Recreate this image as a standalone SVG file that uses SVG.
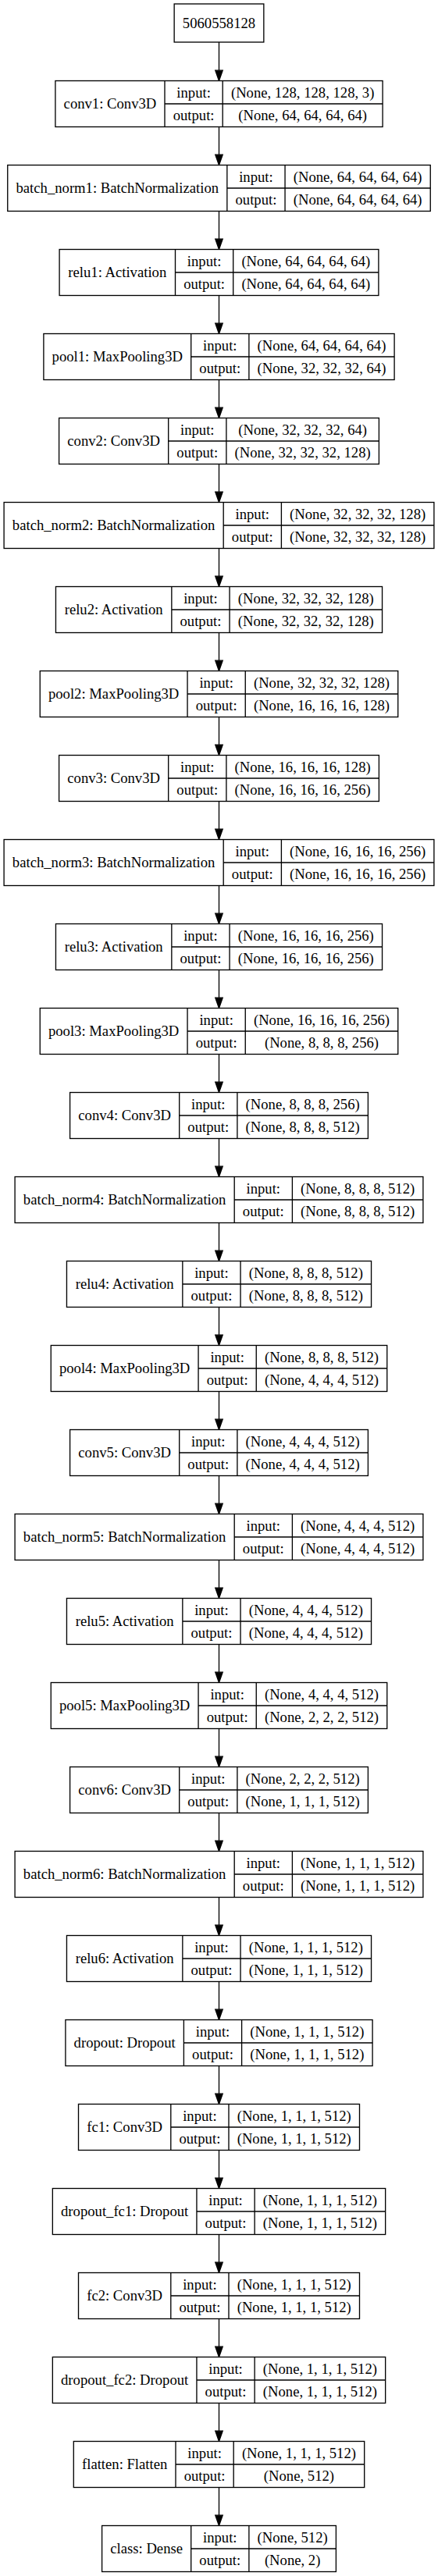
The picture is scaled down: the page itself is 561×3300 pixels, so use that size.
<svg xmlns="http://www.w3.org/2000/svg" xmlns:xlink="http://www.w3.org/1999/xlink" width="561" height="3300" viewBox="0 0 561 3300">
<style>
.b{fill:#fff;stroke:#000;stroke-width:1.33}
.d{fill:none;stroke:#000;stroke-width:1.33}
text{font-family:"Liberation Serif","Times New Roman",serif;font-size:18.67px;text-anchor:middle;fill:#000}
.e{stroke:#000;stroke-width:1.33;fill:none}
.h{fill:#000;stroke:#000;stroke-width:1.33}
</style>
<defs>
<g id="arr"><path class="e" d="M280.5 -49V-13.3"/><polygon class="h" points="280.5,0 275.8,-13.3 285.2,-13.3"/></g>
</defs>
<rect x="0" y="0" width="561" height="3300" fill="#fff"/>
<g id="connectors">
<path class="e" d="M280.5 54V90.2"/><polygon class="h" points="280.5,103.5 275.8,90.2 285.2,90.2"/>
<use xlink:href="#arr" y="211.5"/>
<use xlink:href="#arr" y="319.5"/>
<use xlink:href="#arr" y="427.5"/>
<use xlink:href="#arr" y="535.5"/>
<use xlink:href="#arr" y="643.5"/>
<use xlink:href="#arr" y="751.5"/>
<use xlink:href="#arr" y="859.5"/>
<use xlink:href="#arr" y="967.5"/>
<use xlink:href="#arr" y="1075.5"/>
<use xlink:href="#arr" y="1183.5"/>
<use xlink:href="#arr" y="1291.5"/>
<use xlink:href="#arr" y="1399.5"/>
<use xlink:href="#arr" y="1507.5"/>
<use xlink:href="#arr" y="1615.5"/>
<use xlink:href="#arr" y="1723.5"/>
<use xlink:href="#arr" y="1831.5"/>
<use xlink:href="#arr" y="1939.5"/>
<use xlink:href="#arr" y="2047.5"/>
<use xlink:href="#arr" y="2155.5"/>
<use xlink:href="#arr" y="2263.5"/>
<use xlink:href="#arr" y="2371.5"/>
<use xlink:href="#arr" y="2479.5"/>
<use xlink:href="#arr" y="2587.5"/>
<use xlink:href="#arr" y="2695.5"/>
<use xlink:href="#arr" y="2803.5"/>
<use xlink:href="#arr" y="2911.5"/>
<use xlink:href="#arr" y="3019.5"/>
<use xlink:href="#arr" y="3127.5"/>
<use xlink:href="#arr" y="3235.5"/>
</g>
<g id="input"><rect class="b" x="223.15" y="5" width="114.7" height="49"/><text x="280.5" y="35.5">5060558128</text></g>
<g id="conv1" transform="translate(0,103.5)"><rect class="b" x="70.9" y="0" width="419.2" height="59"/><path class="d" d="M211 0V59M285.2 0V59M211 29.5H490.1"/><text x="140.95" y="35.5">conv1: Conv3D</text><text x="248.1" y="21">input:</text><text x="248.1" y="50.5">output:</text><text x="387.65" y="21">(None, 128, 128, 128, 3)</text><text x="387.65" y="50.5">(None, 64, 64, 64, 64)</text></g>
<g id="batch_norm1" transform="translate(0,211.5)"><rect class="b" x="9.75" y="0" width="541.5" height="59"/><path class="d" d="M290.85 0V59M365.05 0V59M290.85 29.5H551.25"/><text x="150.3" y="35.5">batch_norm1: BatchNormalization</text><text x="327.95" y="21">input:</text><text x="327.95" y="50.5">output:</text><text x="458.15" y="21">(None, 64, 64, 64, 64)</text><text x="458.15" y="50.5">(None, 64, 64, 64, 64)</text></g>
<g id="relu1" transform="translate(0,319.5)"><rect class="b" x="76.1" y="0" width="408.8" height="59"/><path class="d" d="M224.5 0V59M298.7 0V59M224.5 29.5H484.9"/><text x="150.3" y="35.5">relu1: Activation</text><text x="261.6" y="21">input:</text><text x="261.6" y="50.5">output:</text><text x="391.8" y="21">(None, 64, 64, 64, 64)</text><text x="391.8" y="50.5">(None, 64, 64, 64, 64)</text></g>
<g id="pool1" transform="translate(0,427.5)"><rect class="b" x="55.9" y="0" width="449.2" height="59"/><path class="d" d="M244.7 0V59M318.9 0V59M244.7 29.5H505.1"/><text x="150.3" y="35.5">pool1: MaxPooling3D</text><text x="281.8" y="21">input:</text><text x="281.8" y="50.5">output:</text><text x="412" y="21">(None, 64, 64, 64, 64)</text><text x="412" y="50.5">(None, 32, 32, 32, 64)</text></g>
<g id="conv2" transform="translate(0,535.5)"><rect class="b" x="75.6" y="0" width="409.8" height="59"/><path class="d" d="M215.7 0V59M289.9 0V59M215.7 29.5H485.4"/><text x="145.65" y="35.5">conv2: Conv3D</text><text x="252.8" y="21">input:</text><text x="252.8" y="50.5">output:</text><text x="387.65" y="21">(None, 32, 32, 32, 64)</text><text x="387.65" y="50.5">(None, 32, 32, 32, 128)</text></g>
<g id="batch_norm2" transform="translate(0,643.5)"><rect class="b" x="5.1" y="0" width="550.8" height="59"/><path class="d" d="M286.2 0V59M360.4 0V59M286.2 29.5H555.9"/><text x="145.65" y="35.5">batch_norm2: BatchNormalization</text><text x="323.3" y="21">input:</text><text x="323.3" y="50.5">output:</text><text x="458.15" y="21">(None, 32, 32, 32, 128)</text><text x="458.15" y="50.5">(None, 32, 32, 32, 128)</text></g>
<g id="relu2" transform="translate(0,751.5)"><rect class="b" x="71.45" y="0" width="418.1" height="59"/><path class="d" d="M219.85 0V59M294.05 0V59M219.85 29.5H489.55"/><text x="145.65" y="35.5">relu2: Activation</text><text x="256.95" y="21">input:</text><text x="256.95" y="50.5">output:</text><text x="391.8" y="21">(None, 32, 32, 32, 128)</text><text x="391.8" y="50.5">(None, 32, 32, 32, 128)</text></g>
<g id="pool2" transform="translate(0,859.5)"><rect class="b" x="51.25" y="0" width="458.5" height="59"/><path class="d" d="M240.05 0V59M314.25 0V59M240.05 29.5H509.75"/><text x="145.65" y="35.5">pool2: MaxPooling3D</text><text x="277.15" y="21">input:</text><text x="277.15" y="50.5">output:</text><text x="412" y="21">(None, 32, 32, 32, 128)</text><text x="412" y="50.5">(None, 16, 16, 16, 128)</text></g>
<g id="conv3" transform="translate(0,967.5)"><rect class="b" x="75.6" y="0" width="409.8" height="59"/><path class="d" d="M215.7 0V59M289.9 0V59M215.7 29.5H485.4"/><text x="145.65" y="35.5">conv3: Conv3D</text><text x="252.8" y="21">input:</text><text x="252.8" y="50.5">output:</text><text x="387.65" y="21">(None, 16, 16, 16, 128)</text><text x="387.65" y="50.5">(None, 16, 16, 16, 256)</text></g>
<g id="batch_norm3" transform="translate(0,1075.5)"><rect class="b" x="5.1" y="0" width="550.8" height="59"/><path class="d" d="M286.2 0V59M360.4 0V59M286.2 29.5H555.9"/><text x="145.65" y="35.5">batch_norm3: BatchNormalization</text><text x="323.3" y="21">input:</text><text x="323.3" y="50.5">output:</text><text x="458.15" y="21">(None, 16, 16, 16, 256)</text><text x="458.15" y="50.5">(None, 16, 16, 16, 256)</text></g>
<g id="relu3" transform="translate(0,1183.5)"><rect class="b" x="71.45" y="0" width="418.1" height="59"/><path class="d" d="M219.85 0V59M294.05 0V59M219.85 29.5H489.55"/><text x="145.65" y="35.5">relu3: Activation</text><text x="256.95" y="21">input:</text><text x="256.95" y="50.5">output:</text><text x="391.8" y="21">(None, 16, 16, 16, 256)</text><text x="391.8" y="50.5">(None, 16, 16, 16, 256)</text></g>
<g id="pool3" transform="translate(0,1291.5)"><rect class="b" x="51.25" y="0" width="458.5" height="59"/><path class="d" d="M240.05 0V59M314.25 0V59M240.05 29.5H509.75"/><text x="145.65" y="35.5">pool3: MaxPooling3D</text><text x="277.15" y="21">input:</text><text x="277.15" y="50.5">output:</text><text x="412" y="21">(None, 16, 16, 16, 256)</text><text x="412" y="50.5">(None, 8, 8, 8, 256)</text></g>
<g id="conv4" transform="translate(0,1399.5)"><rect class="b" x="89.6" y="0" width="381.8" height="59"/><path class="d" d="M229.7 0V59M303.9 0V59M229.7 29.5H471.4"/><text x="159.65" y="35.5">conv4: Conv3D</text><text x="266.8" y="21">input:</text><text x="266.8" y="50.5">output:</text><text x="387.65" y="21">(None, 8, 8, 8, 256)</text><text x="387.65" y="50.5">(None, 8, 8, 8, 512)</text></g>
<g id="batch_norm4" transform="translate(0,1507.5)"><rect class="b" x="19.1" y="0" width="522.8" height="59"/><path class="d" d="M300.2 0V59M374.4 0V59M300.2 29.5H541.9"/><text x="159.65" y="35.5">batch_norm4: BatchNormalization</text><text x="337.3" y="21">input:</text><text x="337.3" y="50.5">output:</text><text x="458.15" y="21">(None, 8, 8, 8, 512)</text><text x="458.15" y="50.5">(None, 8, 8, 8, 512)</text></g>
<g id="relu4" transform="translate(0,1615.5)"><rect class="b" x="85.45" y="0" width="390.1" height="59"/><path class="d" d="M233.85 0V59M308.05 0V59M233.85 29.5H475.55"/><text x="159.65" y="35.5">relu4: Activation</text><text x="270.95" y="21">input:</text><text x="270.95" y="50.5">output:</text><text x="391.8" y="21">(None, 8, 8, 8, 512)</text><text x="391.8" y="50.5">(None, 8, 8, 8, 512)</text></g>
<g id="pool4" transform="translate(0,1723.5)"><rect class="b" x="65.25" y="0" width="430.5" height="59"/><path class="d" d="M254.05 0V59M328.25 0V59M254.05 29.5H495.75"/><text x="159.65" y="35.5">pool4: MaxPooling3D</text><text x="291.15" y="21">input:</text><text x="291.15" y="50.5">output:</text><text x="412" y="21">(None, 8, 8, 8, 512)</text><text x="412" y="50.5">(None, 4, 4, 4, 512)</text></g>
<g id="conv5" transform="translate(0,1831.5)"><rect class="b" x="89.6" y="0" width="381.8" height="59"/><path class="d" d="M229.7 0V59M303.9 0V59M229.7 29.5H471.4"/><text x="159.65" y="35.5">conv5: Conv3D</text><text x="266.8" y="21">input:</text><text x="266.8" y="50.5">output:</text><text x="387.65" y="21">(None, 4, 4, 4, 512)</text><text x="387.65" y="50.5">(None, 4, 4, 4, 512)</text></g>
<g id="batch_norm5" transform="translate(0,1939.5)"><rect class="b" x="19.1" y="0" width="522.8" height="59"/><path class="d" d="M300.2 0V59M374.4 0V59M300.2 29.5H541.9"/><text x="159.65" y="35.5">batch_norm5: BatchNormalization</text><text x="337.3" y="21">input:</text><text x="337.3" y="50.5">output:</text><text x="458.15" y="21">(None, 4, 4, 4, 512)</text><text x="458.15" y="50.5">(None, 4, 4, 4, 512)</text></g>
<g id="relu5" transform="translate(0,2047.5)"><rect class="b" x="85.45" y="0" width="390.1" height="59"/><path class="d" d="M233.85 0V59M308.05 0V59M233.85 29.5H475.55"/><text x="159.65" y="35.5">relu5: Activation</text><text x="270.95" y="21">input:</text><text x="270.95" y="50.5">output:</text><text x="391.8" y="21">(None, 4, 4, 4, 512)</text><text x="391.8" y="50.5">(None, 4, 4, 4, 512)</text></g>
<g id="pool5" transform="translate(0,2155.5)"><rect class="b" x="65.25" y="0" width="430.5" height="59"/><path class="d" d="M254.05 0V59M328.25 0V59M254.05 29.5H495.75"/><text x="159.65" y="35.5">pool5: MaxPooling3D</text><text x="291.15" y="21">input:</text><text x="291.15" y="50.5">output:</text><text x="412" y="21">(None, 4, 4, 4, 512)</text><text x="412" y="50.5">(None, 2, 2, 2, 512)</text></g>
<g id="conv6" transform="translate(0,2263.5)"><rect class="b" x="89.6" y="0" width="381.8" height="59"/><path class="d" d="M229.7 0V59M303.9 0V59M229.7 29.5H471.4"/><text x="159.65" y="35.5">conv6: Conv3D</text><text x="266.8" y="21">input:</text><text x="266.8" y="50.5">output:</text><text x="387.65" y="21">(None, 2, 2, 2, 512)</text><text x="387.65" y="50.5">(None, 1, 1, 1, 512)</text></g>
<g id="batch_norm6" transform="translate(0,2371.5)"><rect class="b" x="19.1" y="0" width="522.8" height="59"/><path class="d" d="M300.2 0V59M374.4 0V59M300.2 29.5H541.9"/><text x="159.65" y="35.5">batch_norm6: BatchNormalization</text><text x="337.3" y="21">input:</text><text x="337.3" y="50.5">output:</text><text x="458.15" y="21">(None, 1, 1, 1, 512)</text><text x="458.15" y="50.5">(None, 1, 1, 1, 512)</text></g>
<g id="relu6" transform="translate(0,2479.5)"><rect class="b" x="85.45" y="0" width="390.1" height="59"/><path class="d" d="M233.85 0V59M308.05 0V59M233.85 29.5H475.55"/><text x="159.65" y="35.5">relu6: Activation</text><text x="270.95" y="21">input:</text><text x="270.95" y="50.5">output:</text><text x="391.8" y="21">(None, 1, 1, 1, 512)</text><text x="391.8" y="50.5">(None, 1, 1, 1, 512)</text></g>
<g id="dropout" transform="translate(0,2587.5)"><rect class="b" x="83.9" y="0" width="393.2" height="59"/><path class="d" d="M235.4 0V59M309.6 0V59M235.4 29.5H477.1"/><text x="159.65" y="35.5">dropout: Dropout</text><text x="272.5" y="21">input:</text><text x="272.5" y="50.5">output:</text><text x="393.35" y="21">(None, 1, 1, 1, 512)</text><text x="393.35" y="50.5">(None, 1, 1, 1, 512)</text></g>
<g id="fc1" transform="translate(0,2695.5)"><rect class="b" x="100.5" y="0" width="360" height="59"/><path class="d" d="M218.8 0V59M293 0V59M218.8 29.5H460.5"/><text x="159.65" y="35.5">fc1: Conv3D</text><text x="255.9" y="21">input:</text><text x="255.9" y="50.5">output:</text><text x="376.75" y="21">(None, 1, 1, 1, 512)</text><text x="376.75" y="50.5">(None, 1, 1, 1, 512)</text></g>
<g id="dropout_fc1" transform="translate(0,2803.5)"><rect class="b" x="67.35" y="0" width="426.3" height="59"/><path class="d" d="M251.95 0V59M326.15 0V59M251.95 29.5H493.65"/><text x="159.65" y="35.5">dropout_fc1: Dropout</text><text x="289.05" y="21">input:</text><text x="289.05" y="50.5">output:</text><text x="409.9" y="21">(None, 1, 1, 1, 512)</text><text x="409.9" y="50.5">(None, 1, 1, 1, 512)</text></g>
<g id="fc2" transform="translate(0,2911.5)"><rect class="b" x="100.5" y="0" width="360" height="59"/><path class="d" d="M218.8 0V59M293 0V59M218.8 29.5H460.5"/><text x="159.65" y="35.5">fc2: Conv3D</text><text x="255.9" y="21">input:</text><text x="255.9" y="50.5">output:</text><text x="376.75" y="21">(None, 1, 1, 1, 512)</text><text x="376.75" y="50.5">(None, 1, 1, 1, 512)</text></g>
<g id="dropout_fc2" transform="translate(0,3019.5)"><rect class="b" x="67.35" y="0" width="426.3" height="59"/><path class="d" d="M251.95 0V59M326.15 0V59M251.95 29.5H493.65"/><text x="159.65" y="35.5">dropout_fc2: Dropout</text><text x="289.05" y="21">input:</text><text x="289.05" y="50.5">output:</text><text x="409.9" y="21">(None, 1, 1, 1, 512)</text><text x="409.9" y="50.5">(None, 1, 1, 1, 512)</text></g>
<g id="flatten" transform="translate(0,3127.5)"><rect class="b" x="94.3" y="0" width="372.4" height="59"/><path class="d" d="M225 0V59M299.2 0V59M225 29.5H466.7"/><text x="159.65" y="35.5">flatten: Flatten</text><text x="262.1" y="21">input:</text><text x="262.1" y="50.5">output:</text><text x="382.95" y="21">(None, 1, 1, 1, 512)</text><text x="382.95" y="50.5">(None, 512)</text></g>
<g id="class" transform="translate(0,3235.5)"><rect class="b" x="130.6" y="0" width="299.8" height="59"/><path class="d" d="M244.7 0V59M318.9 0V59M244.7 29.5H430.4"/><text x="187.65" y="35.5">class: Dense</text><text x="281.8" y="21">input:</text><text x="281.8" y="50.5">output:</text><text x="374.65" y="21">(None, 512)</text><text x="374.65" y="50.5">(None, 2)</text></g>
</svg>
